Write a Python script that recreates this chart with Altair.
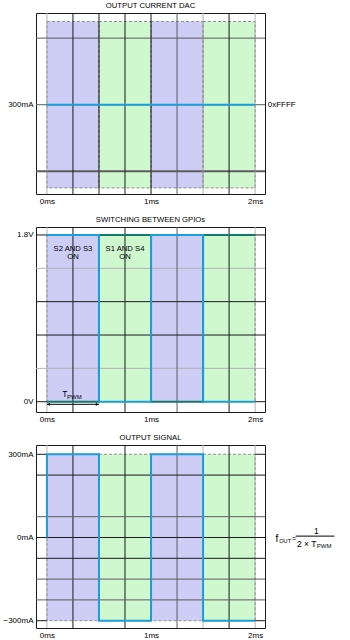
import altair as alt
import pandas as pd

FONT = "Liberation Sans"
PURPLE = "#cdcdf6"
GREEN = "#cff8cf"
BLUE = "#1a9fd9"
TEAL = "#15786c"
BLACK = "#1a1a1a"
DARK = "#5c5c5c"
LIGHT = "#b4b4b4"
DASH = "#8f8f8f"

# ---------------- shared time axis ----------------
X_DOMAIN = [-0.105, 2.095]
X_TICKS = [0, 1, 2]
X_LABELS = ["0ms", "1ms", "2ms"]

PHASE_START = [0.0, 0.5, 1.0, 1.5]
PHASE_END = [0.5, 1.0, 1.5, 2.0]
PHASE_SWITCHES = ["S2 AND S3", "S1 AND S4", "S2 AND S3", "S1 AND S4"]

# ---------------- panel 1 ----------------
P1_TITLE = "OUTPUT CURRENT DAC"
P1_Y_DOMAIN = [192.7, 410.2]
P1_BAND = [200, 400]
P1_Y_TICKS = [300]
P1_Y_LABELS = ["300mA"]
P1_T = [0, 2]
P1_I = [300, 300]
P1_CODE = ["0xFFFF"]
P1_CODE_T = [2.121]
P1_CODE_V = [300]
P1_V_BLACK = [0.25, 0.5, 0.75, 1.0, 1.75]
P1_V_DARK = [1.25]
P1_V_LIGHT = [0, 1.5, 2]
P1_H_THIN = [380, 300]
P1_H_THICK = [220]

# ---------------- panel 2 ----------------
P2_TITLE = "SWITCHING BETWEEN GPIOs"
P2_Y_DOMAIN = [-0.111, 1.886]
P2_BAND = [0, 1.8]
P2_Y_TICKS = [1.8, 0]
P2_Y_LABELS = ["1.8V", "0V"]
P2_T = [0, 0.5, 0.5, 1, 1, 1.5, 1.5, 2]
P2_A = [1.8, 1.8, 0, 0, 1.8, 1.8, 0, 0]
P2_B = [0, 0, 1.8, 1.8, 0, 0, 1.8, 1.8]
P2_V_BLACK = [0.25, 0.75, 1.75]
P2_V_DARK = [1.25]
P2_V_LIGHT = [0, 2]
P2_H_BLACK = [1.08, 0.72]
P2_H_LIGHT = [1.44, 0.36]
P2_EDGES = [1.8, 0]
P2_NOTE_T = [0.25, 0.75]
P2_NOTE_V = [1.69, 1.69]
P2_NOTE = ["S2 AND S3\nON", "S1 AND S4\nON"]
TPWM_T = [0, 0.5]
TPWM_V = -0.028
TPWM_LABEL = ["T"]
TPWM_LABEL_T = [0.146]
TPWM_LABEL_V = [0.08]
TPWM_SUB = ["PWM"]
TPWM_SUB_T = [0.193]
TPWM_SUB_V = [0.05]

# ---------------- panel 3 ----------------
P3_TITLE = "OUTPUT SIGNAL"
P3_Y_DOMAIN = [-326.3, 333.5]
P3_BAND = [-300, 300]
P3_Y_TICKS = [300, 0, -300]
P3_Y_LABELS = ["300mA", "0mA", "\u2212300mA"]
P3_T = [0, 0, 0.5, 0.5, 1, 1, 1.5, 1.5, 2]
P3_I = [0, 300, 300, -300, -300, 300, 300, -300, -300]
P3_V_BLACK = [0.25, 0.75, 1.75]
P3_V_DARK = [1.25]
P3_V_LIGHT = [0, 1.5, 2]
P3_H_BLACK = [225, 0, -75]
P3_H_DARK = [75, -150, -225]
P3_EDGES = [300, -300]

# formula f_OUT = 1 / (2 x T_PWM)
F_MAIN = ["f"]
F_MAIN_T = [2.196]
F_MAIN_V = [-7]
F_OUT = ["OUT"]
F_OUT_T = [2.232]
F_OUT_V = [-13]
F_EQ = ["="]
F_EQ_T = [2.352]
F_EQ_V = [-4]
F_DEN = ["2 \u00d7 T"]
F_DEN_T = [2.402]
F_DEN_V = [-22]
F_DEN_SUB = ["PWM"]
F_DEN_SUB_T = [2.592]
F_DEN_SUB_V = [-29]
F_NUM = ["1"]
F_NUM_T = [2.589]
F_NUM_V = [25]
F_BAR_T = [2.390]
F_BAR_T2 = [2.762]
F_BAR_V = [5]


def label_expr(ticks, labels):
    expr = "''"
    for t, l in reversed(list(zip(ticks, labels))):
        expr = f"datum.value == {t} ? '{l}' : ({expr})"
    return expr


def x_axis():
    return alt.Axis(values=X_TICKS, labelExpr=label_expr(X_TICKS, X_LABELS), title=None,
                    domain=False, ticks=False, tickSize=0, grid=False, labelPadding=3,
                    labelFlush=False, labelAngle=0, labelFont=FONT, labelFontSize=8,
                    labelColor="black")


def y_axis(ticks, labels):
    return alt.Axis(values=ticks, labelExpr=label_expr(ticks, labels), title=None,
                    domain=False, ticks=False, tickSize=0, grid=False, labelPadding=3,
                    labelFlush=False, labelFont=FONT, labelFontSize=8, labelColor="black",
                    labelBaseline="middle")


def make_enc(y_domain, y_ticks, y_labels):
    xs = alt.Scale(domain=X_DOMAIN, nice=False, zero=False)
    ys = alt.Scale(domain=y_domain, nice=False, zero=False)

    def X(f):
        return alt.X(f"{f}:Q", scale=xs, axis=x_axis())

    def X2(f):
        return alt.X2(f"{f}:Q")

    def Y(f):
        return alt.Y(f"{f}:Q", scale=ys, axis=y_axis(y_ticks, y_labels))

    def Y2(f):
        return alt.Y2(f"{f}:Q")

    return X, X2, Y, Y2


def vrules(X, values, color, width=1.0):
    return alt.Chart(pd.DataFrame({"t": values})).mark_rule(color=color, strokeWidth=width).encode(x=X("t"))


def hrules(Y, values, color, width=1.0):
    return alt.Chart(pd.DataFrame({"v": values})).mark_rule(color=color, strokeWidth=width).encode(y=Y("v"))


def edge_rules(X, X2, Y, values, color):
    rows = []
    for v in values:
        rows.append({"a": X_DOMAIN[0], "b": PHASE_START[0], "v": v})
        rows.append({"a": PHASE_END[-1], "b": X_DOMAIN[1], "v": v})
    return alt.Chart(pd.DataFrame(rows)).mark_rule(color=color, strokeWidth=1).encode(
        x=X("a"), x2=X2("b"), y=Y("v"))


def bands(X, X2, Y, Y2, band):
    df = pd.DataFrame({"start": PHASE_START, "end": PHASE_END, "phase": PHASE_SWITCHES,
                       "lo": band[0], "hi": band[1]})
    fill = alt.Chart(df).mark_rect(strokeWidth=0).encode(
        x=X("start"), x2=X2("end"), y=Y("lo"), y2=Y2("hi"),
        color=alt.Color("phase:N", scale=alt.Scale(domain=["S2 AND S3", "S1 AND S4"],
                                                   range=[PURPLE, GREEN]), legend=None))
    outline = alt.Chart(df).mark_rect(fillOpacity=0, stroke=DASH, strokeDash=[3, 2],
                                      strokeWidth=1).encode(
        x=X("start"), x2=X2("end"), y=Y("lo"), y2=Y2("hi"))
    return fill, outline


def signal(X, Y, t, v, color):
    df = pd.DataFrame({"t": t, "v": v, "i": list(range(len(t)))})
    return alt.Chart(df).mark_line(color=color, strokeWidth=2, strokeJoin="miter").encode(
        x=X("t"), y=Y("v"), order=alt.Order("i:Q"))


def texts(X, Y, labels, t, v, size, align="left", baseline="middle", **kw):
    df = pd.DataFrame({"t": t, "v": v, "s": labels})
    return alt.Chart(df).mark_text(font=FONT, fontSize=size, align=align, baseline=baseline,
                                   color="black", **kw).encode(
        x=X("t"), y=Y("v"), text="s:N")


def title(text):
    return alt.TitleParams(text=text, font=FONT, fontSize=7.7, fontWeight="normal",
                           color="black", offset=3, anchor="middle")


W = 229

# ---------- panel 1 ----------
X, X2, Y, Y2 = make_enc(P1_Y_DOMAIN, P1_Y_TICKS, P1_Y_LABELS)
f1, o1 = bands(X, X2, Y, Y2, P1_BAND)
p1 = alt.layer(
    f1,
    vrules(X, P1_V_LIGHT, LIGHT),
    hrules(Y, P1_H_THIN, DARK),
    hrules(Y, P1_H_THICK, DARK, 2),
    o1,
    vrules(X, P1_V_DARK, DARK),
    vrules(X, P1_V_BLACK, BLACK),
    signal(X, Y, P1_T, P1_I, BLUE),
    texts(X, Y, P1_CODE, P1_CODE_T, P1_CODE_V, 8),
).properties(width=W, height=181, title=title(P1_TITLE))

# ---------- panel 2 ----------
X, X2, Y, Y2 = make_enc(P2_Y_DOMAIN, P2_Y_TICKS, P2_Y_LABELS)
f2, o2 = bands(X, X2, Y, Y2, P2_BAND)
arrow_df = pd.DataFrame({"a": [TPWM_T[0]], "b": [TPWM_T[1]], "v": [TPWM_V]})
heads_df = pd.DataFrame({"t": TPWM_T, "v": [TPWM_V, TPWM_V], "dir": ["l", "r"]})
p2 = alt.layer(
    f2,
    vrules(X, P2_V_LIGHT, LIGHT),
    hrules(Y, P2_H_LIGHT, LIGHT),
    o2,
    vrules(X, P2_V_DARK, DARK),
    vrules(X, P2_V_BLACK, BLACK),
    hrules(Y, P2_H_BLACK, BLACK),
    edge_rules(X, X2, Y, P2_EDGES, BLACK),
    signal(X, Y, P2_T, P2_B, TEAL),
    signal(X, Y, P2_T, P2_A, BLUE),
    texts(X, Y, P2_NOTE, P2_NOTE_T, P2_NOTE_V, 7.7, align="center", baseline="top",
          lineBreak="\n", lineHeight=8),
    alt.Chart(arrow_df).mark_rule(color="black", strokeWidth=1).encode(
        x=X("a"), x2=X2("b"), y=Y("v")),
    alt.Chart(heads_df[heads_df.dir == "l"]).mark_point(
        shape="M0,0L1,-0.45L1,0.45Z", filled=True, color="black", size=40, opacity=1).encode(
        x=X("t"), y=Y("v")),
    alt.Chart(heads_df[heads_df.dir == "r"]).mark_point(
        shape="M0,0L-1,-0.45L-1,0.45Z", filled=True, color="black", size=40, opacity=1).encode(
        x=X("t"), y=Y("v")),
    texts(X, Y, TPWM_LABEL, TPWM_LABEL_T, TPWM_LABEL_V, 8.5),
    texts(X, Y, TPWM_SUB, TPWM_SUB_T, TPWM_SUB_V, 6),
).properties(width=W, height=185, title=title(P2_TITLE))

# ---------- panel 3 ----------
X, X2, Y, Y2 = make_enc(P3_Y_DOMAIN, P3_Y_TICKS, P3_Y_LABELS)
f3, o3 = bands(X, X2, Y, Y2, P3_BAND)
bar_df = pd.DataFrame({"a": F_BAR_T, "b": F_BAR_T2, "v": F_BAR_V})
p3 = alt.layer(
    f3,
    vrules(X, P3_V_LIGHT, LIGHT),
    o3,
    vrules(X, P3_V_DARK, DARK),
    vrules(X, P3_V_BLACK, BLACK),
    hrules(Y, P3_H_DARK, DARK),
    hrules(Y, P3_H_BLACK, BLACK),
    edge_rules(X, X2, Y, P3_EDGES, BLACK),
    signal(X, Y, P3_T, P3_I, BLUE),
    texts(X, Y, F_MAIN, F_MAIN_T, F_MAIN_V, 10),
    texts(X, Y, F_OUT, F_OUT_T, F_OUT_V, 5.6),
    texts(X, Y, F_EQ, F_EQ_T, F_EQ_V, 8),
    texts(X, Y, F_DEN, F_DEN_T, F_DEN_V, 8.5),
    texts(X, Y, F_DEN_SUB, F_DEN_SUB_T, F_DEN_SUB_V, 6),
    texts(X, Y, F_NUM, F_NUM_T, F_NUM_V, 8.5, align="center"),
    alt.Chart(bar_df).mark_rule(color="black", strokeWidth=1).encode(
        x=X("a"), x2=X2("b"), y=Y("v")),
).properties(width=W, height=183, title=title(P3_TITLE))

chart = alt.vconcat(p1, p2, p3, spacing=33, bounds="flush").properties(
    padding={"left": 2, "top": 1, "right": 2, "bottom": 2}
).configure_view(stroke=BLACK, strokeWidth=1)

chart.save("out.html", embed_options={"renderer": "svg", "actions": False})
